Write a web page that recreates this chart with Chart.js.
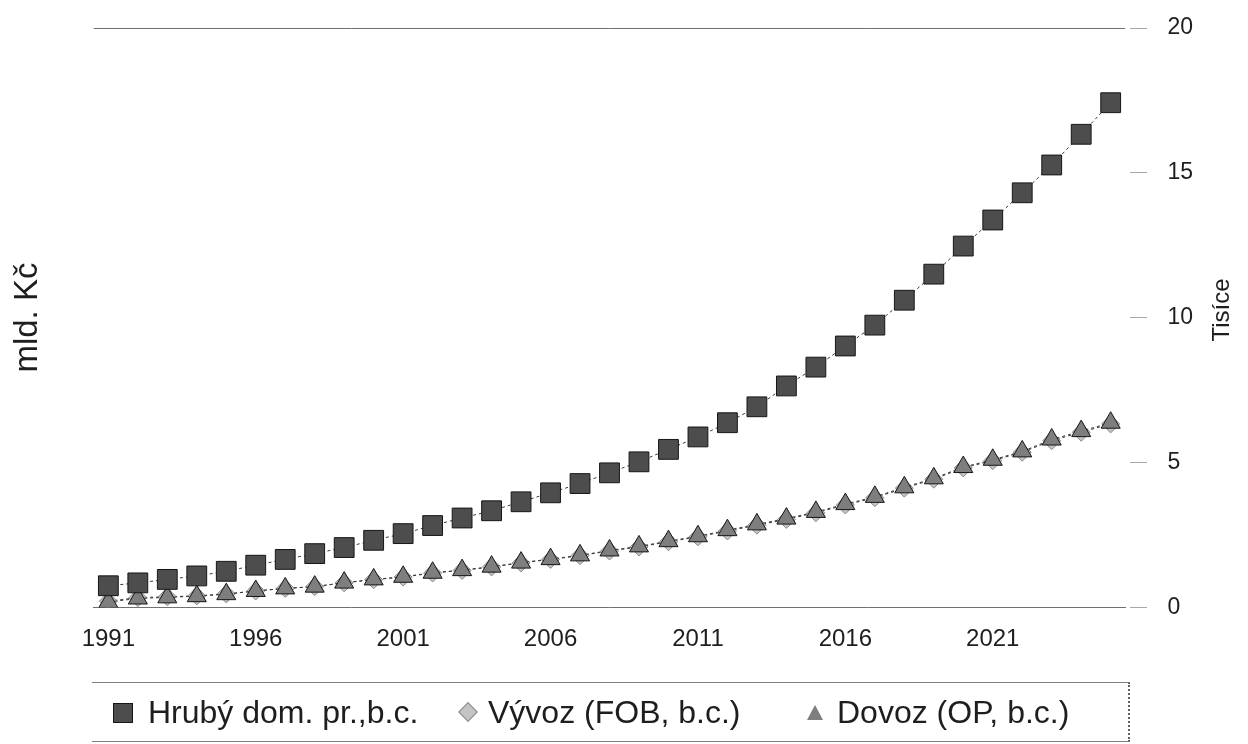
<!DOCTYPE html>
<html lang="cs">
<head>
<meta charset="utf-8">
<title>HDP, vývoz a dovoz</title>
<script src="https://cdn.jsdelivr.net/npm/chart.js@4.4.1/dist/chart.umd.min.js"></script>
<style>
    html, body { margin: 0; padding: 0; background: #fff; }
    #wrap { width: 1248px; height: 744px; position: relative; overflow: hidden; }
    #legend {
        position: absolute; left: 92px; top: 682px; width: 1036px; height: 58px;
        border-top: 1.5px solid #808080; border-bottom: 1.5px solid #808080;
        border-right: 2px dotted #606060;
        font-family: "Liberation Sans", Arial, sans-serif; font-size: 32px; color: #1e1e1e;
    }
    #legend .mark { position: absolute; box-sizing: border-box; }
    #legend .text { position: absolute; top: 0; line-height: 58px; white-space: nowrap; }
</style>
</head>
<body>
<div id="wrap">
    <canvas id="chart"></canvas>
    <div id="legend"></div>
</div>
<script>
// roky 1991 - 2025
const years = ['1991', '1992', '1993', '1994', '1995', '1996', '1997', '1998', '1999', '2000',
    '2001', '2002', '2003', '2004', '2005', '2006', '2007', '2008', '2009', '2010',
    '2011', '2012', '2013', '2014', '2015', '2016', '2017', '2018', '2019', '2020',
    '2021', '2022', '2023', '2024', '2025'];

// hodnoty v tisících mld. Kč
const hdp = [0.74, 0.84, 0.96, 1.08, 1.24, 1.45, 1.65, 1.85, 2.06, 2.31,
    2.54, 2.82, 3.08, 3.33, 3.64, 3.95, 4.27, 4.64, 5.02, 5.45,
    5.88, 6.37, 6.92, 7.64, 8.29, 9.02, 9.74, 10.6, 11.5, 12.47,
    13.37, 14.31, 15.27, 16.33, 17.42];
const vyvoz = [0.21, 0.33, 0.36, 0.39, 0.46, 0.56, 0.65, 0.71, 0.84, 0.95,
    1.04, 1.18, 1.27, 1.39, 1.53, 1.65, 1.78, 1.94, 2.08, 2.26,
    2.43, 2.63, 2.83, 3.03, 3.26, 3.53, 3.78, 4.11, 4.42, 4.81,
    5.06, 5.35, 5.75, 6.04, 6.33];
const dovoz = [0.18, 0.30, 0.34, 0.38, 0.45, 0.56, 0.65, 0.71, 0.85, 0.96,
    1.05, 1.19, 1.28, 1.40, 1.54, 1.66, 1.79, 1.96, 2.10, 2.28,
    2.45, 2.66, 2.86, 3.06, 3.29, 3.56, 3.81, 4.14, 4.45, 4.84,
    5.09, 5.38, 5.79, 6.08, 6.37];

const rightTicks = [0, 5, 10, 15, 20];
const labelEvery = 5;

const FONT = '"Liberation Sans", Arial, sans-serif';
const TEXT = '#1e1e1e';

// pravy popis osy (cte se zdola nahoru)
const rightTitle = {
    id: 'rightTitle',
    afterDraw(chart) {
        const ctx = chart.ctx;
        ctx.save();
        ctx.translate(1222, 310);
        ctx.rotate(-Math.PI / 2);
        ctx.font = '24px ' + FONT;
        ctx.fillStyle = TEXT;
        ctx.textAlign = 'center';
        ctx.textBaseline = 'middle';
        ctx.fillText('Tisíce', 0, 0);
        ctx.restore();
    }
};

const lineStyle = {
    borderColor: '#3a3a3a',
    borderWidth: 1,
    borderDash: [3, 3],
    pointBorderColor: '#161616',
    pointBorderWidth: 1,
    tension: 0,
    fill: false,
    yAxisID: 'y'
};

const chart = new Chart(document.getElementById('chart'), {
    type: 'line',
    data: {
        labels: years,
        datasets: [
            Object.assign({}, lineStyle, {
                label: 'Hrubý dom. pr.,b.c.',
                data: hdp,
                pointStyle: 'rect',
                pointRadius: 14,
                backgroundColor: '#4d4d4d',
                pointBackgroundColor: '#4d4d4d',
                order: 0
            }),
            Object.assign({}, lineStyle, {
                label: 'Vývoz (FOB, b.c.)',
                data: vyvoz,
                pointStyle: 'rectRot',
                pointRadius: 9,
                backgroundColor: '#c4c4c4',
                pointBackgroundColor: '#c4c4c4',
                pointBorderColor: '#8a8a8a',
                order: 2
            }),
            Object.assign({}, lineStyle, {
                label: 'Dovoz (OP, b.c.)',
                data: dovoz,
                pointStyle: 'triangle',
                pointRadius: 11,
                backgroundColor: '#7e7e7e',
                pointBackgroundColor: '#7e7e7e',
                order: 1
            })
        ]
    },
    options: {
        responsive: true,
        maintainAspectRatio: false,
        animation: false,
        layout: { padding: { left: 0, right: 53, top: 28, bottom: 72 } },
        plugins: {
            tooltip: { enabled: false },
            legend: { display: false }
        },
        scales: {
            x: {
                type: 'category',
                offset: true,
                grid: { display: false, drawTicks: false },
                border: { display: true, color: '#707070', width: 1 },
                ticks: {
                    autoSkip: false,
                    maxRotation: 0,
                    padding: 18,
                    color: TEXT,
                    font: { family: FONT, size: 24 },
                    callback: function (value, index) {
                        return index % labelEvery === 0 ? years[index] : '';
                    }
                }
            },
            y: {
                position: 'right',
                min: 0,
                max: 20,
                afterBuildTicks: axis => { axis.ticks = rightTicks.map(v => ({ value: v })); },
                grid: {
                    drawOnChartArea: true,
                    drawTicks: true,
                    tickLength: 40,
                    tickColor: '#a8a8a8',
                    tickBorderDash: [0, 5, 17, 1000],
                    color: ctx => (ctx.tick && ctx.tick.value === 20 ? '#707070' : 'rgba(0,0,0,0)')
                },
                border: { display: false },
                ticks: {
                    padding: 2,
                    color: TEXT,
                    font: { family: FONT, size: 23 }
                }
            },
            yLeft: {
                position: 'left',
                min: 0,
                max: 20,
                grid: { display: false, drawTicks: false },
                border: { display: false },
                ticks: { display: false },
                title: {
                    display: true,
                    text: 'mld. Kč',
                    color: TEXT,
                    font: { family: FONT, size: 33 },
                    padding: { top: 8, bottom: 46 }
                }
            }
        }
    },
    plugins: [rightTitle]
});

// legenda pod grafem (polohy v ramci ramecku)
const legendMarks = [
    { left: 21, top: 20, css: 'width:20px;height:20px;border:1px solid #161616;' },
    { left: 369, top: 22, css: 'width:14px;height:14px;border:1px solid #8a8a8a;transform:rotate(45deg);' },
    { left: 715, top: 22, css: 'width:0;height:0;border-left:8px solid transparent;border-right:8px solid transparent;border-bottom:15px solid;' }
];
const legendTextLeft = [56, 396, 745];

function buildLegend() {
    const box = document.getElementById('legend');
    chart.data.datasets.forEach((ds, i) => {
        const m = legendMarks[i];
        const mark = document.createElement('span');
        mark.className = 'mark';
        mark.style.cssText = m.css + `left:${m.left}px;top:${m.top}px;`;
        if (ds.pointStyle === 'triangle') mark.style.borderBottomColor = ds.backgroundColor;
        else mark.style.background = ds.backgroundColor;
        box.appendChild(mark);

        const txt = document.createElement('span');
        txt.className = 'text';
        txt.style.left = legendTextLeft[i] + 'px';
        txt.textContent = ds.label;
        box.appendChild(txt);
    });
}
buildLegend();
</script>
</body>
</html>
